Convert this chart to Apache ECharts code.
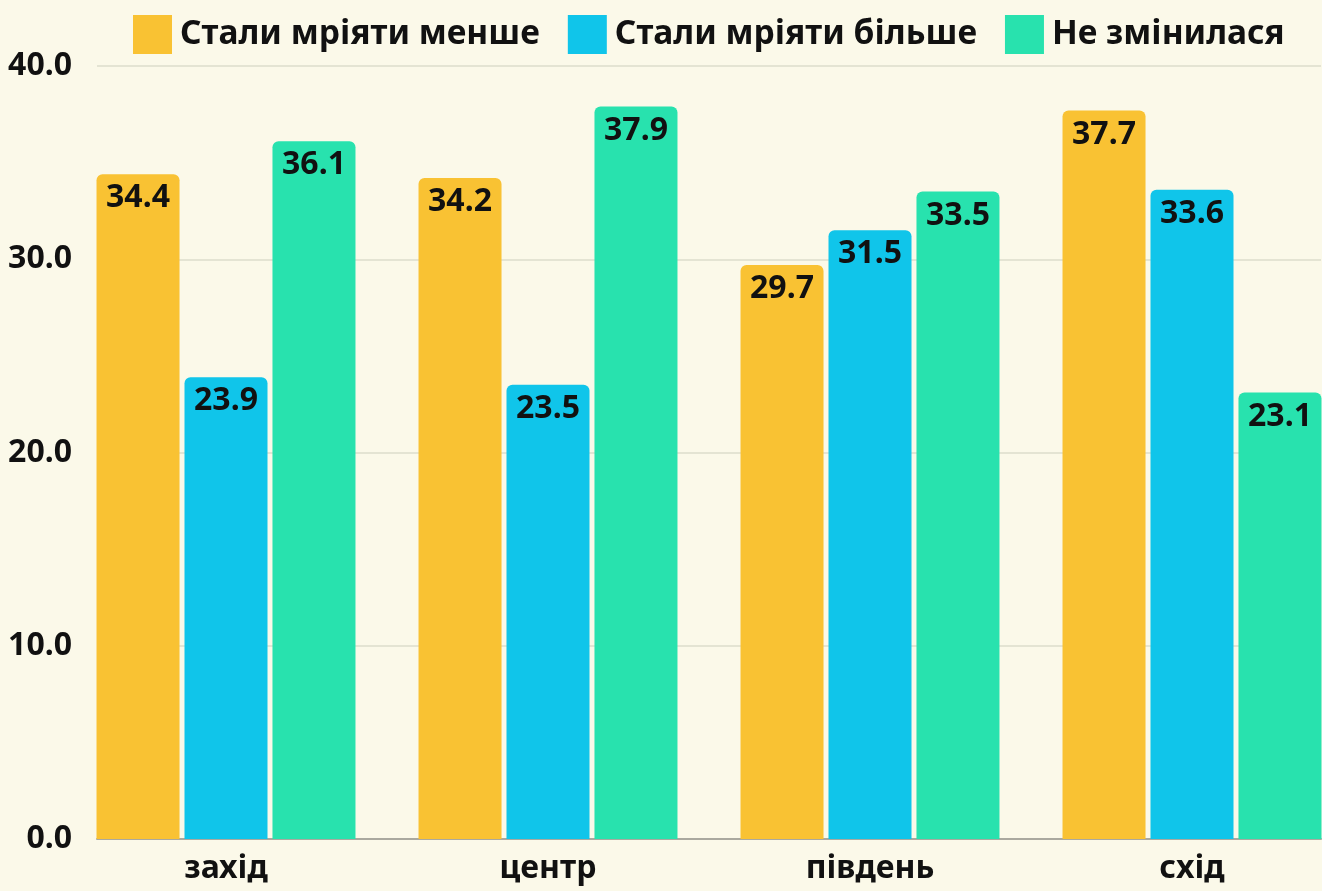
<!DOCTYPE html>
<html>
  <head>
    <meta charset="utf-8" />
    <title>Мрії за регіонами</title>
    <script src="https://cdn.jsdelivr.net/npm/echarts@6/dist/echarts.min.js"></script>
    <style>
      html, body { margin: 0; padding: 0; background: #fbf9e9; }
    </style>
  </head>
  <body>
    <div id="chart" style="width: 1322px; height: 891px"></div>
    <script>
      // дані
      var regions = ["захід", "центр", "південь", "схід"];
      var seriesNames = ["Стали мріяти менше", "Стали мріяти більше", "Не змінилася"];
      var lessValues = [34.4, 34.2, 29.7, 37.7];
      var moreValues = [23.9, 23.5, 31.5, 33.6];
      var sameValues = [36.1, 37.9, 33.5, 23.1];
      var colors = ["#f9c233", "#10c5ea", "#28e2ae"];

      var font = "'Noto Sans', sans-serif";

      function makeSeries(name, values, color) {
        return {
          name: name,
          type: "bar",
          xAxisIndex: 0,
          yAxisIndex: 0,
          barWidth: 83,
          barGap: "6%",
          data: values,
          itemStyle: { color: color, borderRadius: [6, 6, 0, 0] },
          label: {
            show: true,
            position: "insideTop",
            distance: 8,
            formatter: function (p) { return p.value.toFixed(1); },
            color: "#111",
            fontFamily: font,
            fontWeight: "bold",
            fontSize: 32
          }
        };
      }

      var option = {
        backgroundColor: "#fbf9e9",
        animation: false,
        textStyle: { fontFamily: font },
        legend: {
          left: 128,
          top: 10,
          itemWidth: 39,
          itemHeight: 39,
          itemGap: 28,
          icon: "rect",
          data: seriesNames,
          textStyle: {
            color: "#111",
            fontFamily: font,
            fontWeight: "bold",
            fontSize: 33.5,
            padding: [0, 0, 0, 3]
          }
        },
        // grid 0 — бари (ширша сітка, щоб крайні групи стояли впритул), grid 1 — осі й лінії
        grid: [
          { left: 65, width: 1288, top: 66, bottom: 52, outerBoundsMode: "none" },
          { left: 97, right: 1, top: 66, bottom: 52, outerBoundsMode: "none" }
        ],
        xAxis: [
          {
            type: "category",
            gridIndex: 0,
            data: regions,
            axisLine: { show: false },
            axisTick: { show: false },
            axisLabel: {
              margin: 14,
              color: "#111",
              fontFamily: font,
              fontWeight: "bold",
              fontSize: 32
            }
          },
          {
            type: "category",
            gridIndex: 1,
            data: regions,
            axisLine: { show: true, lineStyle: { color: "#aaa99f", width: 2 } },
            axisTick: { show: false },
            axisLabel: { show: false }
          }
        ],
        yAxis: [
          {
            type: "value",
            gridIndex: 0,
            min: 0,
            max: 40,
            interval: 10,
            show: false,
            splitLine: { show: false }
          },
          {
            type: "value",
            gridIndex: 1,
            min: 0,
            max: 40,
            interval: 10,
            axisLine: { show: false },
            axisTick: { show: false },
            splitLine: { lineStyle: { color: "#dddccb", width: 1.5 } },
            axisLabel: {
              margin: 25,
              color: "#111",
              fontFamily: font,
              fontWeight: "bold",
              fontSize: 32,
              formatter: function (v) { return v.toFixed(1); }
            }
          }
        ],
        series: [
          makeSeries(seriesNames[0], lessValues, colors[0]),
          makeSeries(seriesNames[1], moreValues, colors[1]),
          makeSeries(seriesNames[2], sameValues, colors[2])
        ]
      };

      var chart = echarts.init(document.getElementById("chart"));
      chart.setOption(option);
    </script>
  </body>
</html>
